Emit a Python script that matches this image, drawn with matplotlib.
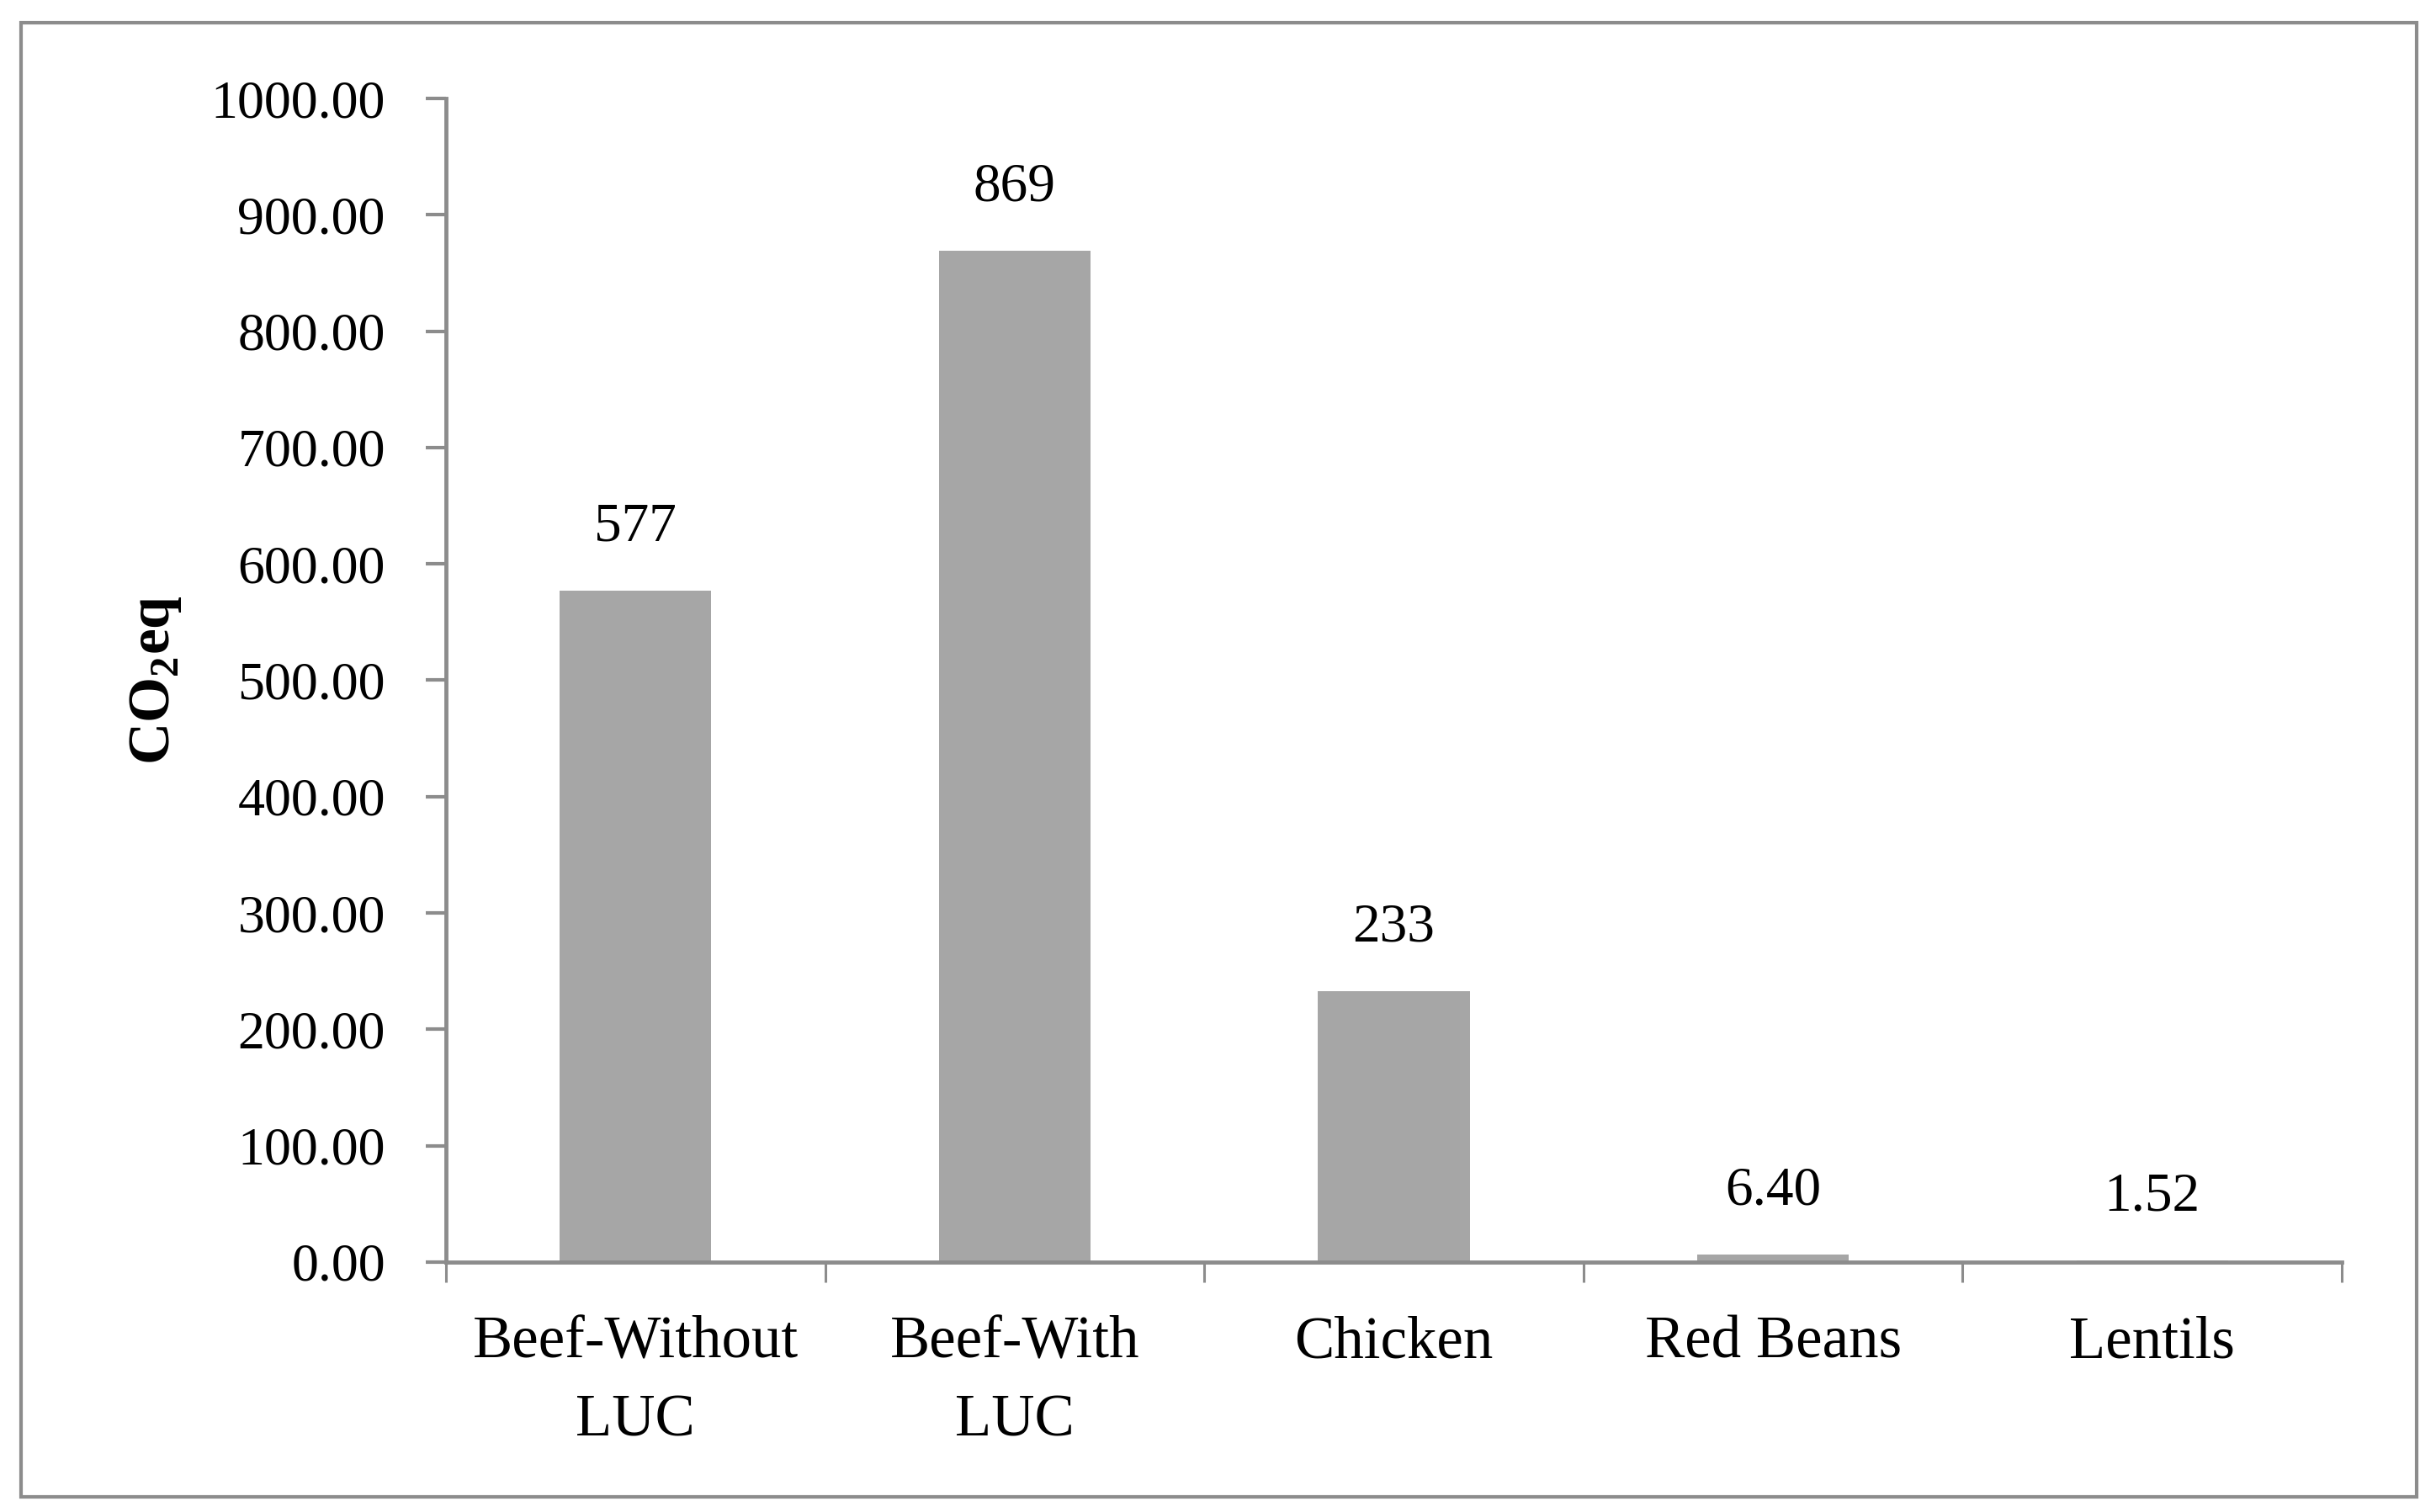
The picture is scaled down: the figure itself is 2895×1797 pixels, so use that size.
import matplotlib
matplotlib.use("Agg")
import matplotlib.pyplot as plt
from matplotlib.patches import Rectangle
from matplotlib.ticker import FixedLocator, FormatStrFormatter

plt.rcParams['font.family'] = ['Liberation Serif', 'DejaVu Serif']
plt.rcParams['mathtext.fontset'] = 'custom'
plt.rcParams['mathtext.rm'] = 'Liberation Serif'
plt.rcParams['mathtext.bf'] = 'Liberation Serif:bold'

# data
categories = ['Beef-Without\nLUC', 'Beef-With\nLUC', 'Chicken', 'Red Beans', 'Lentils']
values = [577, 869, 233, 6.40, 1.52]
value_labels = ['577', '869', '233', '6.40', '1.52']
y_ticks = [0, 100, 200, 300, 400, 500, 600, 700, 800, 900, 1000]

bar_color = '#a6a6a6'
axis_color = '#8c8c8c'

fig = plt.figure(figsize=(28.95, 17.97), dpi=100)
ax = fig.add_axes([530 / 2895, 0.16528, (2783 - 530) / 2895, 0.76961])

x = list(range(len(categories)))
ax.bar(x, values, width=0.4, color=bar_color, zorder=2)

for xi, v, lab in zip(x, values, value_labels):
    ax.annotate(lab, (xi, v), xytext=(0, 54), textcoords='offset points',
                ha='center', va='center', fontsize=47)

ax.set_xlim(-0.5, len(categories) - 0.5)
ax.set_ylim(0, 1000)

# category boundaries carry the tick marks, centres carry the labels
ax.xaxis.set_major_locator(FixedLocator([i - 0.5 for i in range(len(categories) + 1)]))
ax.xaxis.set_major_formatter(plt.NullFormatter())
ax.xaxis.set_minor_locator(FixedLocator(x))
ax.set_xticklabels(categories, minor=True, fontsize=51, linespacing=1.55)
ax.tick_params(axis='x', which='major', length=17, width=2.2, color=axis_color, direction='out')
ax.tick_params(axis='x', which='minor', length=0, pad=46)

ax.set_yticks(y_ticks)
ax.yaxis.set_major_formatter(FormatStrFormatter('%.2f'))
ax.tick_params(axis='y', length=17, width=3, color=axis_color, direction='out', pad=35, labelsize=46)

for s in ['top', 'right']:
    ax.spines[s].set_visible(False)
for s in ['left', 'bottom']:
    ax.spines[s].set_color(axis_color)
    ax.spines[s].set_linewidth(3.5)

fig.text(185 / 2895, 0.5501, r'CO$_\mathbf{2}$eq', rotation=90, ha='center', va='center',
         fontsize=50, fontweight='bold')

# outer frame around the whole chart
fig.patches.append(Rectangle((25 / 2895, 1 - 1779 / 1797), (2872 - 25) / 2895, (1779 - 27) / 1797,
                             transform=fig.transFigure, fill=False, edgecolor=axis_color,
                             linewidth=3, zorder=0))

fig.savefig('out.png', dpi=100, facecolor='white')
